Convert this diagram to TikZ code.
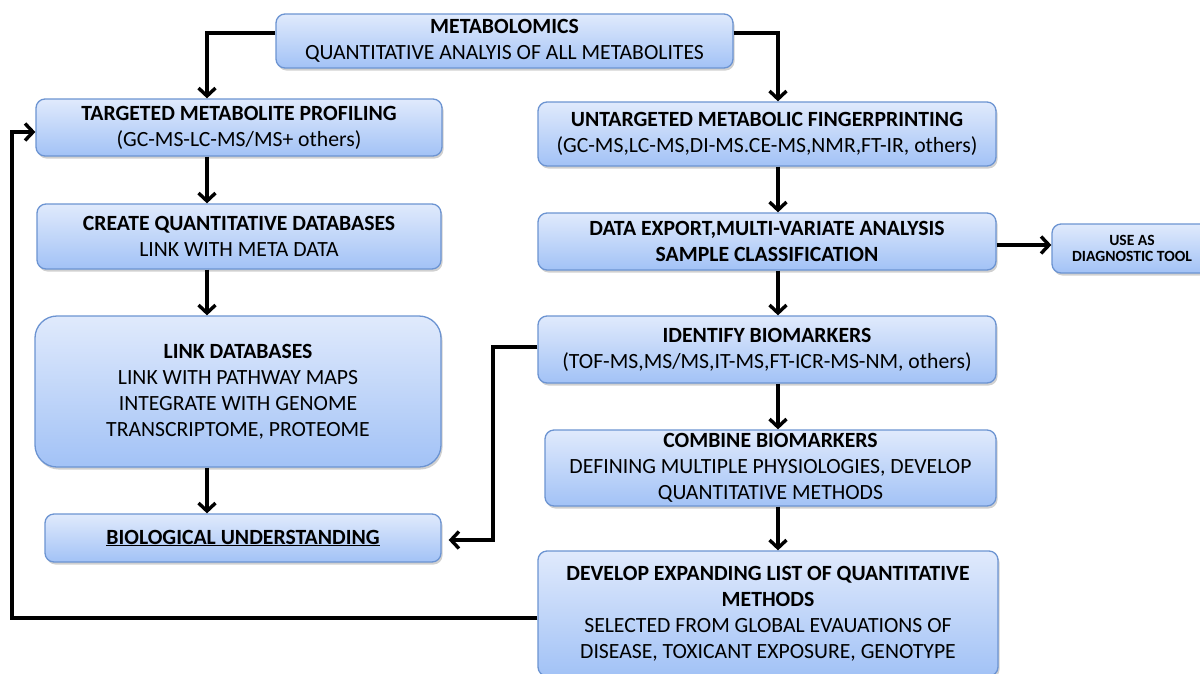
\documentclass[tikz,border=0pt]{standalone}
\usepackage{fontspec}
\setmainfont{Carlito}
\usetikzlibrary{arrows.meta,shadows}

\definecolor{boxtop}{RGB}{224,234,252}
\definecolor{boxbot}{RGB}{162,194,246}
\definecolor{boxline}{RGB}{108,148,210}

\tikzset{
  box/.style={rounded corners=9pt, draw=boxline, line width=1.3pt,
    top color=boxtop, bottom color=boxbot, align=center, inner sep=0pt,
    font=\fontsize{21.7}{26}\selectfont,
    drop shadow={opacity=0.3, shadow xshift=1.5pt, shadow yshift=-2.5pt, fill=black!60}},
  smallbox/.style={box, font=\fontsize{15.6}{16}\selectfont\bfseries},
  flow/.style={line width=3.4pt, line join=miter,
    -{Straight Barb[length=8pt,width=17pt,line width=3.4pt]}},
}

\begin{document}
\begin{tikzpicture}[x=1pt,y=-1pt]
  \fill[white] (0,0) rectangle (1200,673);
  \useasboundingbox (0,0) rectangle (1200,673);

  % left column
  \node[box, minimum width=457pt, minimum height=54pt] (meta) at (504.5,41)
    {\textbf{METABOLOMICS}\\QUANTITATIVE ANALYIS OF ALL METABOLITES};
  \node[box, minimum width=406pt, minimum height=57pt] (targ) at (239,127.5)
    {\textbf{TARGETED METABOLITE PROFILING}\\(GC-MS-LC-MS/MS+ others)};
  \node[box, minimum width=404pt, minimum height=65pt] (qdb) at (239,236.5)
    {\textbf{CREATE QUANTITATIVE DATABASES}\\LINK WITH META DATA};
  \node[box, rounded corners=22pt, minimum width=406pt, minimum height=151pt] (linkdb) at (238,391.5)
    {\textbf{LINK DATABASES}\\LINK WITH PATHWAY MAPS\\INTEGRATE WITH GENOME\\TRANSCRIPTOME, PROTEOME};
  \node[box, minimum width=396pt, minimum height=48pt] (bio) at (243,538)
    {\textbf{\underline{BIOLOGICAL UNDERSTANDING}}};

  % right column
  \node[box, minimum width=458pt, minimum height=64pt] (untarg) at (767,134)
    {\textbf{UNTARGETED METABOLIC FINGERPRINTING}\\(GC-MS,LC-MS,DI-MS.CE-MS,NMR,FT-IR, others)};
  \node[box, minimum width=458pt, minimum height=57pt] (export) at (767,241.5)
    {\textbf{DATA EXPORT,MULTI-VARIATE ANALYSIS}\\\textbf{SAMPLE CLASSIFICATION}};
  \node[smallbox, minimum width=160pt, minimum height=49pt] (diag) at (1132,248.5)
    {USE AS\\DIAGNOSTIC TOOL};
  \node[box, minimum width=458pt, minimum height=67pt] (ident) at (767,349.5)
    {\textbf{IDENTIFY BIOMARKERS}\\(TOF-MS,MS/MS,IT-MS,FT-ICR-MS-NM, others)};
  \node[box, minimum width=451pt, minimum height=76pt] (comb) at (770.5,468)
    {\textbf{COMBINE BIOMARKERS}\\DEFINING MULTIPLE PHYSIOLOGIES, DEVELOP\\QUANTITATIVE METHODS};
  \node[box, minimum width=460pt, minimum height=125pt] (dev) at (768,613.5)
    {\textbf{DEVELOP EXPANDING LIST OF QUANTITATIVE}\\\textbf{METHODS}\\SELECTED FROM GLOBAL EVAUATIONS OF\\DISEASE, TOXICANT EXPOSURE, GENOTYPE};

  % routing columns and rows
  \coordinate (lx) at (207,0);
  \coordinate (rx) at (778,0);
  \coordinate (top) at (0,33);
  \coordinate (jog) at (493,0);
  \coordinate (loop) at (12,0);

  % connectors
  \draw[flow] (meta.west |- top) -| (targ.north -| lx);
  \draw[flow] (meta.east |- top) -| (untarg.north -| rx);
  \draw[flow] (targ.south -| lx) -- (qdb.north -| lx);
  \draw[flow] (qdb.south -| lx) -- (linkdb.north -| lx);
  \draw[flow] (linkdb.south -| lx) -- (bio.north -| lx);

  \draw[flow] (untarg.south -| rx) -- (export.north -| rx);
  \draw[flow] (export.east |- 0,245) -- (diag.west |- 0,245);
  \draw[flow] (export.south -| rx) -- (ident.north -| rx);
  \draw[flow] (ident.south -| rx) -- (comb.north -| rx);
  \draw[flow] (comb.south -| rx) -- (dev.north -| rx);

  \draw[flow] (ident.west |- 0,347) -| (jog |- 0,540) -- ([xshift=7pt]bio.east |- 0,540);
  \draw[flow] (dev.west |- 0,618) -| (loop |- 0,132) -- (targ.west |- 0,132);
\end{tikzpicture}
\end{document}
